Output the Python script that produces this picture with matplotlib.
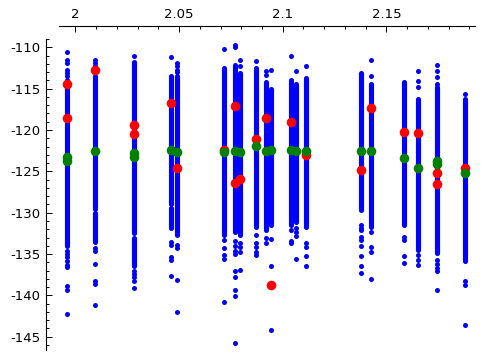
import matplotlib
matplotlib.use("Agg")
from matplotlib import pyplot as plt
from matplotlib.ticker import MultipleLocator, FuncFormatter

# x position of each column of blue points
col_x = [1.996, 2.0095, 2.0281, 2.0462, 2.049, 2.0718, 2.077, 2.0794, 2.087, 2.0918,
         2.0943, 2.104, 2.1063, 2.1112, 2.1375, 2.1424, 2.1586, 2.1653, 2.1745, 2.188]

# dense part of each column (points overlap into a solid stripe)
band_x = col_x + [2.0095, 2.0281, 2.0462]
band_hi = [-114.0, -113.5, -111.8, -113.5, -113.5, -112.5, -112.1, -113.1, -112.5, -114.2,
           -115.0, -114.0, -114.4, -113.7, -113.1, -114.4, -114.2, -116.2, -114.8, -116.3,
           -130.0, -133.0, -129.4]
band_lo = [-134.0, -129.5, -132.5, -129.0, -132.7, -132.7, -132.3, -132.7, -131.7, -132.1,
           -131.5, -131.5, -131.1, -131.7, -129.7, -131.7, -131.5, -134.5, -134.9, -135.9,
           -133.5, -136.5, -131.8]

# single points outside the stripes
sparse_y = [
    [-110.6, -111.5, -111.9, -112.8, -113.1, -113.5, -134.6, -135.0, -135.4, -135.8,
     -136.3, -136.6, -138.9, -139.4, -142.2],
    [-111.5, -111.9, -112.3, -134.3, -134.6, -136.2, -138.3, -138.6, -141.1],
    [-111.1, -137.0, -137.4, -137.8, -138.2, -139.1],
    [-111.2, -133.5, -133.9, -135.3, -135.7, -137.7],
    [-111.9, -112.3, -112.7, -113.0, -133.9, -134.3, -138.1, -142.0],
    [-110.2, -133.3, -134.3, -135.1, -135.6, -140.8],
    [-109.7, -110.0, -133.4, -134.0, -134.6, -135.0, -137.1, -137.8, -139.4, -140.1, -145.7],
    [-111.5, -112.3, -133.7, -134.1, -134.7, -136.9],
    [-111.6, -132.7, -133.7, -134.1, -134.7, -135.1],
    [-112.9, -113.3, -133.1, -133.7],
    [-112.8, -133.2, -136.4, -144.2],
    [-111.1, -132.1, -133.4, -133.7],
    [-112.9, -131.9, -132.3, -132.8, -135.6],
    [-112.3, -133.7, -134.1, -135.2, -136.4],
    [-131.5, -131.9, -132.1, -132.9, -133.3, -134.0, -135.2, -136.4, -137.3],
    [-111.5, -113.5, -132.3, -134.1, -134.7, -138.0],
    [-132.9, -133.3, -135.2, -136.1],
    [-112.9, -114.1, -114.8, -135.1, -135.7, -136.3],
    [-112.1, -112.9, -113.6, -114.4, -135.7, -136.2, -136.7, -137.1, -139.3],
    [-115.6, -138.2, -138.7, -143.6],
]

red_x = [1.996, 1.996, 2.0095, 2.0281, 2.0281, 2.0462, 2.049, 2.0718, 2.077, 2.077,
         2.0794, 2.087, 2.0918, 2.0943, 2.104, 2.1112, 2.1375, 2.1424, 2.1586, 2.1653,
         2.1745, 2.1745, 2.188]
red_y = [-114.5, -118.5, -112.8, -119.4, -120.5, -116.7, -124.6, -122.4, -117.1, -126.4,
         -125.9, -121.1, -118.5, -138.7, -119.0, -123.0, -124.8, -117.4, -120.2, -120.4,
         -125.2, -126.5, -124.6]

green_x = [1.996, 1.996, 2.0095, 2.0281, 2.0281, 2.0462, 2.049, 2.0718, 2.077, 2.0794,
           2.087, 2.0918, 2.0943, 2.104, 2.1063, 2.1112, 2.1375, 2.1424, 2.1586, 2.1653,
           2.1745, 2.1745, 2.188]
green_y = [-123.3, -123.8, -122.6, -122.8, -123.3, -122.4, -122.7, -122.7, -122.5, -122.7,
           -121.9, -122.6, -122.4, -122.4, -122.6, -122.6, -122.6, -122.6, -123.4, -124.6,
           -123.8, -124.1, -125.2]

plt.rcParams['axes.unicode_minus'] = False
plt.rcParams['font.size'] = 9.5

fig = plt.figure(figsize=(4.83, 3.59), dpi=100)
ax = fig.add_axes([59 / 483, 9 / 359, 416 / 483, 311 / 359])

ax.vlines(band_x, band_lo, band_hi, colors='#0000ff', linewidth=3.7, capstyle='round')
for x, ys in zip(col_x, sparse_y):
    ax.scatter([x] * len(ys), ys, s=13, color='#0000ff', linewidths=0)
ax.scatter(red_x, red_y, s=48, color='#ff0000', linewidths=0, zorder=3)
ax.scatter(green_x, green_y, s=48, color='#008000', linewidths=0, zorder=4)

ax.set_xlim(1.9921, 2.1927)
ax.set_ylim(-146.6, -109.0)

# sage style axes: top and left, pulled away from the data
ax.spines['right'].set_visible(False)
ax.spines['bottom'].set_visible(False)
ax.spines['left'].set_position(('outward', 9.4))
ax.spines['top'].set_position(('outward', 9.4))
ax.xaxis.tick_top()

ax.xaxis.set_major_locator(MultipleLocator(0.05))
ax.xaxis.set_minor_locator(MultipleLocator(0.01))
ax.yaxis.set_major_locator(MultipleLocator(5))
ax.yaxis.set_minor_locator(MultipleLocator(1))
ax.xaxis.set_major_formatter(FuncFormatter(lambda v, p: f"{round(v, 4):g}"))
ax.yaxis.set_major_formatter(FuncFormatter(lambda v, p: f"{round(v):d}"))

ax.tick_params(which='major', direction='in', length=4.3, width=0.7, pad=3.8)
ax.tick_params(which='minor', direction='in', length=2.4, width=0.7)

fig.savefig('out.png', dpi=100)
